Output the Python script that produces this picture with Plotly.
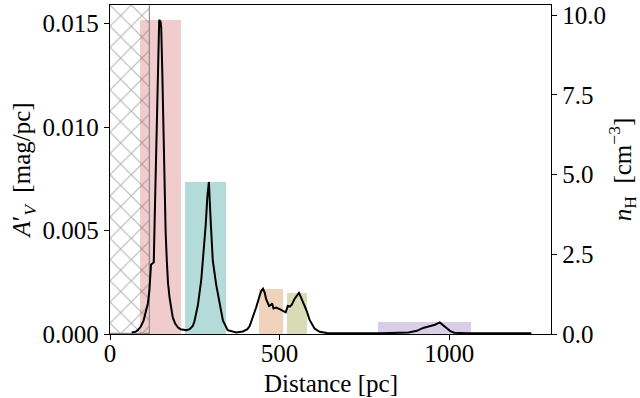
import plotly.graph_objects as go

# ---- data ----
distance_pc = [64, 75, 82, 90, 99, 106, 111.5, 116, 119.5, 121, 126, 129, 133, 137, 141, 143.5, 145, 149, 151,
               154, 156, 159, 161, 164, 167.5, 171, 175.5, 180, 185, 192, 200, 208, 215, 225, 235, 244, 249,
               259, 269, 276, 282, 287, 291.5, 296.5, 303, 313, 323, 333, 347, 372, 392, 405, 412, 421, 431,
               441, 446, 451, 456, 460, 465, 469, 475, 478, 482, 490, 500, 510, 518, 524, 530, 536, 544, 552,
               557, 563, 569, 575, 580, 588, 596, 603, 618, 640, 700, 800, 880, 905, 923, 942, 958, 972, 982,
               992, 1003, 1015, 1050, 1150, 1200, 1225, 1242]
n_H = [0.05, 0.07, 0.12, 0.22, 0.42, 0.7, 0.95, 1.35, 1.78, 2.18, 2.22, 2.25, 4.2, 6.2, 8.3, 9.7, 9.85, 9.8, 9.6,
       8.3, 7.0, 5.5, 4.4, 3.2, 2.3, 1.6, 1.15, 0.8, 0.52, 0.33, 0.21, 0.15, 0.13, 0.12, 0.15, 0.25, 0.4,
       0.9, 1.7, 2.5, 3.4, 4.3, 4.77, 3.6, 2.3, 1.55, 0.95, 0.42, 0.12, 0.05, 0.08, 0.15, 0.26, 0.52, 0.84,
       1.2, 1.35, 1.42, 1.3, 1.1, 0.95, 0.88, 0.92, 0.96, 0.8, 0.83, 0.78, 0.73, 0.68, 0.88, 0.86, 0.92, 1.1, 1.22,
       1.29, 1.15, 1.0, 0.85, 0.72, 0.45, 0.28, 0.17, 0.07, 0.03, 0.02, 0.02, 0.05, 0.1, 0.19, 0.24, 0.29, 0.365, 0.27,
       0.18, 0.09, 0.04, 0.02, 0.02, 0.03, 0.03, 0.02]

cloud_lo = [87, 220, 438, 522, 789]
cloud_hi = [208, 343, 511, 581, 1065]
cloud_AV = [0.01516, 0.00737, 0.00218, 0.0020, 0.00056]
cloud_colors = ["rgb(240,204,204)", "rgb(179,219,218)", "rgb(241,211,188)", "rgb(217,218,182)", "rgb(217,205,232)"]

excluded_lo, excluded_hi = 0, 116.5

y1_max = 0.0159
y2_max = 10.32
x_max = 1300

x_ticks = [0, 500, 1000]
y1_ticks = [0, 0.005, 0.010, 0.015]
y2_ticks = [0, 2.5, 5.0, 7.5, 10.0]

FONT = "Liberation Serif"

fig = go.Figure()

for lo, hi, h, c in zip(cloud_lo, cloud_hi, cloud_AV, cloud_colors):
    fig.add_trace(go.Bar(x=[(lo + hi) / 2], y=[h], width=[hi - lo], marker=dict(color=c, line=dict(width=0)),
                         yaxis="y", showlegend=False, hoverinfo="skip"))

fig.add_trace(go.Bar(x=[(excluded_lo + excluded_hi) / 2], y=[y1_max], width=[excluded_hi - excluded_lo],
                     marker=dict(color="rgba(0,0,0,0)",
                                 line=dict(color="rgb(140,140,140)", width=1.2),
                                 pattern=dict(shape="x", size=15, solidity=0.15,
                                              fgcolor="rgb(110,110,110)", bgcolor="rgba(0,0,0,0)")),
                     yaxis="y", showlegend=False, hoverinfo="skip"))

fig.add_trace(go.Scatter(x=distance_pc, y=n_H, mode="lines", line=dict(color="black", width=2),
                         yaxis="y2", showlegend=False))

axis_common = dict(ticks="outside", ticklen=5, tickwidth=1.2, tickcolor="black", showline=True,
                   linecolor="black", linewidth=1.3, showgrid=False, zeroline=False, automargin=False,
                   tickfont=dict(family=FONT, size=25, color="black"))

fig.update_layout(
    width=640, height=398,
    margin=dict(l=110, r=89, t=5, b=64),
    paper_bgcolor="white", plot_bgcolor="white",
    barmode="overlay", bargap=0,
    font=dict(family=FONT, size=25, color="black"),
    xaxis=dict(range=[0, x_max], tickvals=x_ticks, mirror=True, ticklabelstandoff=-8, **axis_common),
    yaxis=dict(range=[0, y1_max], tickvals=y1_ticks, tickformat=".3f",
               title=dict(text="<i>A</i>′<sub><i>V</i></sub>  [mag/pc]", font=dict(family=FONT, size=25), standoff=4),
               **axis_common),
    yaxis2=dict(range=[0, y2_max], tickvals=y2_ticks, tickformat=".1f", overlaying="y", side="right",
                title=dict(text="<i>n</i><sub>H</sub>  [cm<sup>−3</sup>]", font=dict(family=FONT, size=25), standoff=10),
                **axis_common),
    annotations=[dict(text="Distance [pc]", xref="paper", yref="paper", x=0.5, y=-0.149,
                      xanchor="center", yanchor="middle", showarrow=False,
                      font=dict(family=FONT, size=25, color="black"))],
)

fig.write_html("out.html")
